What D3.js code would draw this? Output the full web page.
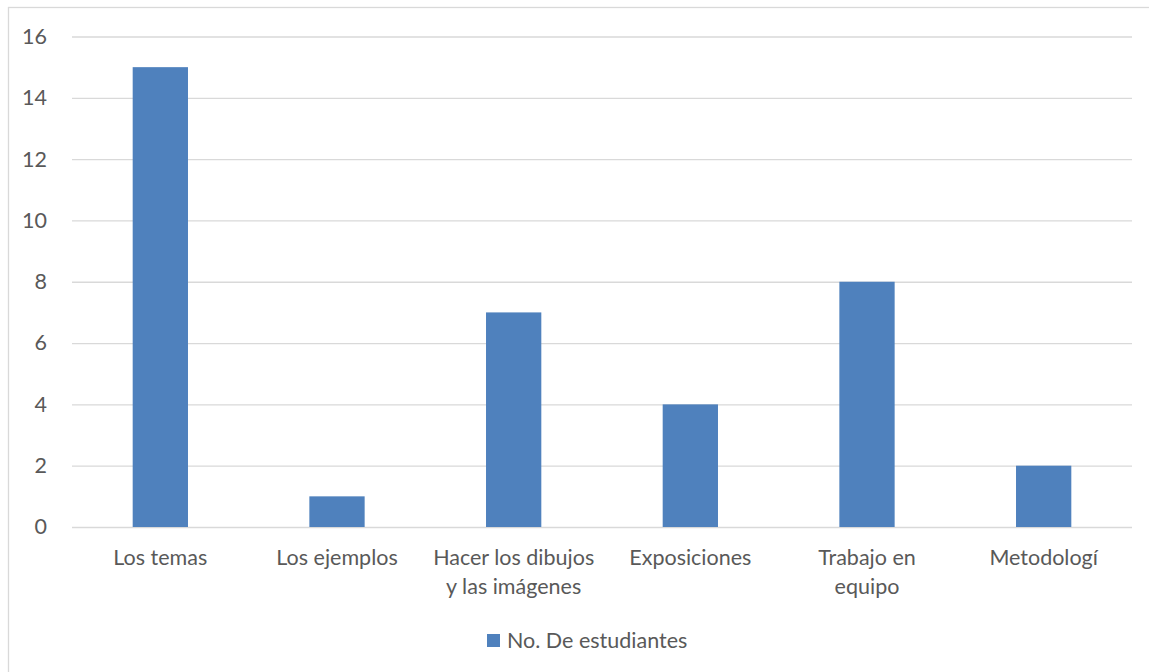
<!DOCTYPE html>
<html>
<head>
<meta charset="utf-8">
<script src="https://cdn.jsdelivr.net/npm/d3@7"></script>
<style>
  body { margin: 0; background: #fff; }
  svg text { font-family: Lato, "Open Sans", sans-serif; fill: #595959; }
</style>
</head>
<body>
<svg id="mainContainer"></svg>
<script>
var categories = ["Los temas", "Los ejemplos", "Hacer los dibujos y las imágenes", "Exposiciones", "Trabajo en equipo", "Metodologí"];
var categoryLines = [["Los temas"], ["Los ejemplos"], ["Hacer los dibujos", "y las imágenes"], ["Exposiciones"], ["Trabajo en", "equipo"], ["Metodologí"]];
var estudiantes = [15, 1, 7, 4, 8, 2];
var yTicks = [0, 2, 4, 6, 8, 10, 12, 14, 16];
var seriesName = "No. De estudiantes";

var svgWidth = 1149;
var svgHeight = 672;

var plot = { left: 72, right: 1132, top: 36.5, bottom: 527 };
var fontSize = 21.5;

var svg = d3.select('#mainContainer')
    .attr('width', svgWidth)
    .attr('height', svgHeight);

// chart frame (only top/left edges are visible in the crop)
svg.append('rect')
    .attr('x', 8.5).attr('y', 7.5)
    .attr('width', 1160).attr('height', 700)
    .attr('fill', 'none')
    .attr('stroke', '#d9d9d9')
    .attr('stroke-width', 1.3);

var x = d3.scaleBand()
    .domain(categories)
    .range([plot.left, plot.right])
    .paddingInner(0.687)
    .paddingOuter(0.3435);

var y = d3.scaleLinear()
    .domain([0, 16])
    .range([plot.bottom, plot.top]);

// gridlines + y labels
var yAxis = d3.axisLeft(y)
    .tickValues(yTicks)
    .tickSize(-(plot.right - plot.left))
    .tickPadding(25);

var gy = svg.append('g')
    .attr('transform', 'translate(' + plot.left + ',0)')
    .call(yAxis);
gy.select('.domain').remove();
gy.selectAll('.tick line').attr('stroke', '#d9d9d9').attr('stroke-width', 1.3);
gy.selectAll('.tick text').attr('font-size', fontSize).style('fill', '#595959');

// bars
svg.append('g')
    .selectAll('rect')
    .data(estudiantes)
    .enter()
    .append('rect')
    .attr('x', function(d, i) { return x(categories[i]); })
    .attr('width', x.bandwidth())
    .attr('y', function(d) { return y(d); })
    .attr('height', function(d) { return y(0) - y(d); })
    .attr('fill', '#4f81bd');

// x labels
var xl = svg.append('g')
    .selectAll('text')
    .data(categories)
    .enter()
    .append('text')
    .attr('text-anchor', 'middle')
    .attr('font-size', fontSize)
    .attr('x', function(d) { return x(d) + x.bandwidth() / 2; })
    .attr('y', 565);
xl.each(function(d, i) {
    var t = d3.select(this);
    categoryLines[i].forEach(function(line, j) {
        t.append('tspan')
            .attr('x', x(d) + x.bandwidth() / 2)
            .attr('dy', j === 0 ? 0 : 29)
            .text(line);
    });
});

// legend
var legend = svg.append('g').attr('transform', 'translate(487,634)');
legend.append('rect')
    .attr('width', 13).attr('height', 13)
    .attr('fill', '#4f81bd');
legend.append('text')
    .attr('x', 20).attr('y', 14)
    .attr('font-size', fontSize)
    .text(seriesName);
</script>
</body>
</html>
